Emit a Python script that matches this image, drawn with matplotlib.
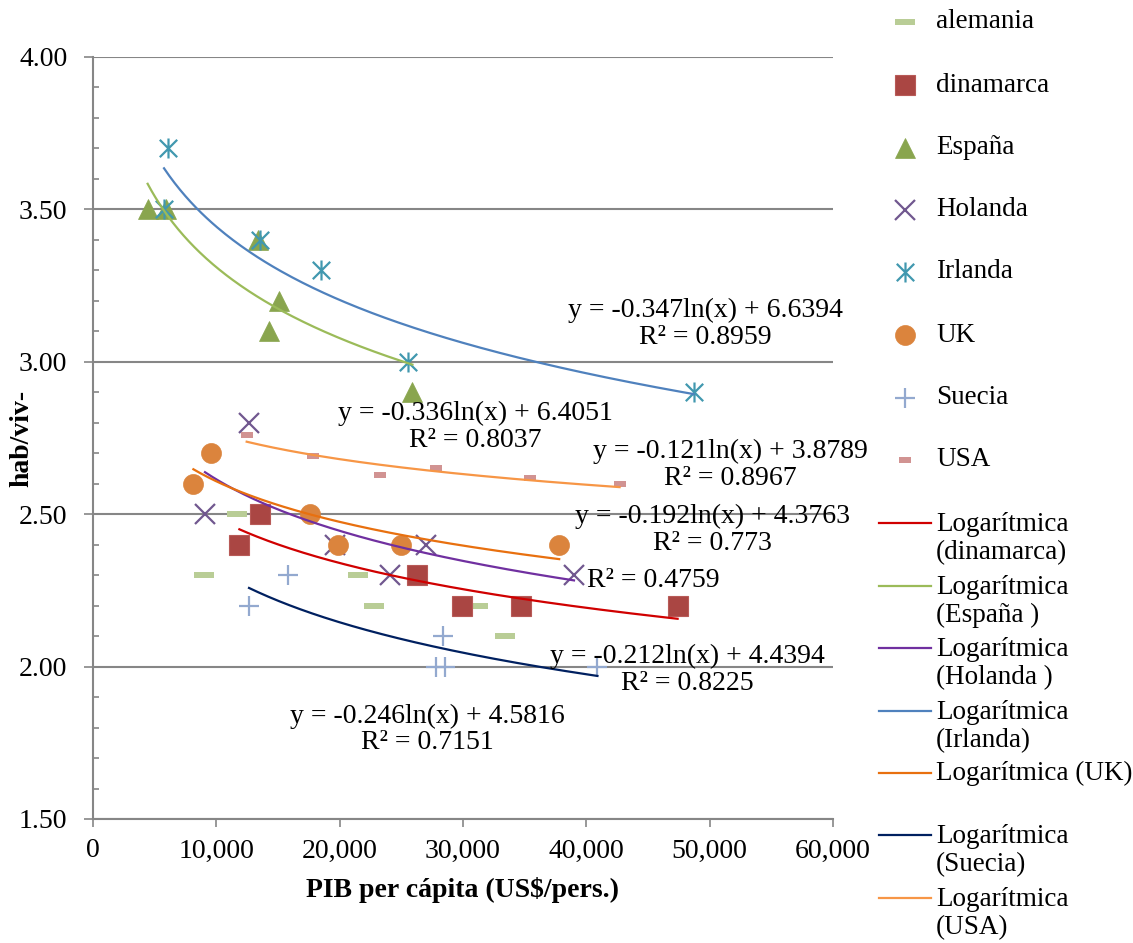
import numpy as np
import matplotlib
matplotlib.use('Agg')
import matplotlib.pyplot as plt
from matplotlib.path import Path
from matplotlib.lines import Line2D
from matplotlib.ticker import MultipleLocator, FuncFormatter

plt.rcParams['font.family'] = ['Liberation Serif', 'DejaVu Serif']
plt.rcParams['font.size'] = 20

# ---------------- data ----------------
series_names = ['alemania', 'dinamarca', 'España', 'Holanda', 'Irlanda', 'UK', 'Suecia', 'USA']

alemania_x = [9030, 11650, 21500, 22800, 31250, 33400]
alemania_y = [2.3, 2.5, 2.3, 2.2, 2.2, 2.1]
dinamarca_x = [11870, 13500, 26300, 29900, 34700, 47400]
dinamarca_y = [2.4, 2.5, 2.3, 2.2, 2.2, 2.2]
espana_x = [4430, 5920, 13360, 14300, 15100, 25900]
espana_y = [3.5, 3.5, 3.4, 3.1, 3.2, 2.9]
holanda_x = [9080, 12680, 19600, 24100, 27000, 39000]
holanda_y = [2.5, 2.8, 2.4, 2.3, 2.4, 2.3]
irlanda_x = [5760, 6060, 13500, 18500, 25500, 48700]
irlanda_y = [3.5, 3.7, 3.4, 3.3, 3.0, 2.9]
uk_x = [8140, 9540, 17600, 19850, 24980, 37800]
uk_y = [2.6, 2.7, 2.5, 2.4, 2.4, 2.4]
suecia_x = [12650, 15800, 27800, 28400, 28500, 40900]
suecia_y = [2.2, 2.3, 2.0, 2.1, 2.0, 2.0]
usa_x = [12460, 17870, 23300, 27800, 35400, 42700]
usa_y = [2.76, 2.69, 2.63, 2.65, 2.62, 2.60]

# logarithmic trendlines y = a*ln(x) + b (Holanda coefficients fitted below)
trend_series = ['dinamarca', 'España', 'Holanda', 'Irlanda', 'UK', 'Suecia', 'USA']
trend_slope = [-0.212, -0.336, None, -0.347, -0.192, -0.246, -0.121]
trend_intercept = [4.4394, 6.4051, None, 6.6394, 4.3763, 4.5816, 3.8789]
trend_r2 = ['0.8225', '0.8037', '0.4759', '0.8959', '0.773', '0.7151', '0.8967']
trend_show_eq = [True, True, False, True, True, True, True]
trend_legend = ['Logarítmica\n(dinamarca)', 'Logarítmica\n(España )', 'Logarítmica\n(Holanda )',
                'Logarítmica\n(Irlanda)', 'Logarítmica (UK)', 'Logarítmica\n(Suecia)',
                'Logarítmica\n(USA)']

xlabel = 'PIB per cápita (US$/pers.)'
ylabel = 'hab/viv-'

# ---------------- styles ----------------
dash_long = [(-1, -0.3), (1, -0.3), (1, 0.3), (-1, 0.3)]
dash_short = [(-1, -0.5), (1, -0.5), (1, 0.5), (-1, 0.5)]
star_path = Path([(-1, -1), (1, 1), (-1, 1), (1, -1), (0, -1.15), (0, 1.15)],
                 [Path.MOVETO, Path.LINETO, Path.MOVETO, Path.LINETO, Path.MOVETO, Path.LINETO])

series_data = {
    'alemania': (alemania_x, alemania_y),
    'dinamarca': (dinamarca_x, dinamarca_y),
    'España': (espana_x, espana_y),
    'Holanda': (holanda_x, holanda_y),
    'Irlanda': (irlanda_x, irlanda_y),
    'UK': (uk_x, uk_y),
    'Suecia': (suecia_x, suecia_y),
    'USA': (usa_x, usa_y),
}
marker_style = {
    'alemania': dict(marker=dash_long, ms=13.7, mfc='#B9CD96', mec='#B9CD96', mew=0),
    'dinamarca': dict(marker='s', ms=14.2, mfc='#AA4643', mec='#B85A57', mew=0.8),
    'España': dict(marker='^', ms=14.4, mfc='#89A54E', mec='#89A54E', mew=0.5),
    'Holanda': dict(marker='x', ms=14.4, mfc='none', mec='#71588F', mew=1.6),
    'Irlanda': dict(marker=star_path, ms=14.4, mfc='none', mec='#4198AF', mew=1.6),
    'UK': dict(marker='o', ms=14.4, mfc='#DB843D', mec='#DB843D', mew=0.5),
    'Suecia': dict(marker='+', ms=13.7, mfc='none', mec='#93A9CF', mew=1.6),
    'USA': dict(marker=dash_short, ms=8.0, mfc='#D19392', mec='#D19392', mew=0),
}
trend_color = {
    'dinamarca': '#D00000', 'España': '#9BBB59', 'Holanda': '#7030A0',
    'Irlanda': '#4F81BD', 'UK': '#E8700F', 'Suecia': '#002060', 'USA': '#F79646',
}
# equation label centres (data coords)
eq_pos = {
    'dinamarca': (48160, 1.990), 'España': (30970, 2.786), 'Holanda': (45400, 2.284),
    'Irlanda': (49620, 3.124), 'UK': (50190, 2.448), 'Suecia': (27080, 1.794),
    'USA': (51650, 2.663),
}

W, H = 1133, 943
fig = plt.figure(figsize=(W / 100, H / 100), dpi=100)
ax = fig.add_axes([93 / W, 1 - 819 / H, (833 - 93) / W, (819 - 57) / H])

grid_c = '#868686'
ax.set_xlim(0, 60000)
ax.set_ylim(1.5, 4.0)
ax.yaxis.set_major_locator(MultipleLocator(0.5))
ax.yaxis.set_minor_locator(MultipleLocator(0.1))
ax.xaxis.set_major_locator(MultipleLocator(10000))
ax.yaxis.set_major_formatter(FuncFormatter(lambda v, p: f'{v:.2f}'))
ax.xaxis.set_major_formatter(FuncFormatter(lambda v, p: f'{v:,.0f}'))
ax.grid(axis='y', which='major', color=grid_c, linewidth=1.5, zorder=0)
ax.set_axisbelow(True)
for s in ['top', 'right']:
    ax.spines[s].set_visible(False)
for s in ['left', 'bottom']:
    ax.spines[s].set_color(grid_c)
    ax.spines[s].set_linewidth(1.5)
ax.tick_params(axis='y', which='major', direction='out', length=6.5, width=1.2, color=grid_c, pad=12)
ax.tick_params(axis='y', which='minor', direction='in', length=4.5, width=1.2, color=grid_c)
ax.tick_params(axis='x', which='major', direction='out', length=6, width=1.2, color=grid_c, pad=8)
ax.set_xlabel(xlabel, fontweight='bold', labelpad=10)
ax.set_ylabel(ylabel, fontweight='bold')
ax.yaxis.set_label_coords((34 - 93) / (833 - 93), 0.5)

# scatter markers
for i, name in enumerate(series_names):
    xs, ys = series_data[name]
    ax.plot(xs, ys, linestyle='none', zorder=3 + i * 0.01, **marker_style[name])

# trendlines and equations
for k, name in enumerate(trend_series):
    xs, ys = series_data[name]
    a, b = trend_slope[k], trend_intercept[k]
    if a is None:
        a, b = np.polyfit(np.log(xs), ys, 1)
    xx = np.linspace(min(xs), max(xs), 200)
    ax.plot(xx, a * np.log(xx) + b, color=trend_color[name], lw=1.6, zorder=4)
    if trend_show_eq[k]:
        sign = '+' if b >= 0 else '-'
        txt = f'y = {a:.3f}ln(x) {sign} {abs(b):.4f}\nR² = {trend_r2[k]}'
    else:
        txt = f'R² = {trend_r2[k]}'
    cx, cy = eq_pos[name]
    ax.text(cx, cy, txt, ha='center', va='center', multialignment='center',
            linespacing=1.1, zorder=6, clip_on=False)

# ---------------- legend (manual, figure pixel coords) ----------------
def fx(px):
    return px / W

def fy(py):
    return 1 - py / H

LEG_FS = 19.5
leg_marker_y = [22, 85, 148, 210, 272, 335, 398, 460]
for name, py in zip(series_names, leg_marker_y):
    fig.add_artist(Line2D([fx(905)], [fy(py)], transform=fig.transFigure,
                          linestyle='none', **marker_style[name]))
    fig.text(fx(936), fy(py), name, ha='left', va='center', fontsize=LEG_FS)

leg_line_y = [523, 586, 648, 711, 773, 835, 898]
for name, lab, py in zip(trend_series, trend_legend, leg_line_y):
    fig.add_artist(Line2D([fx(879), fx(931)], [fy(py), fy(py)], transform=fig.transFigure,
                          color=trend_color[name], lw=1.6))
    nlines = lab.count('\n') + 1
    yc = py + (nlines - 1) * 15.5
    fig.text(fx(936), fy(yc), lab, ha='left', va='center', linespacing=1.12, fontsize=LEG_FS)

fig.savefig('out.png', dpi=100)
